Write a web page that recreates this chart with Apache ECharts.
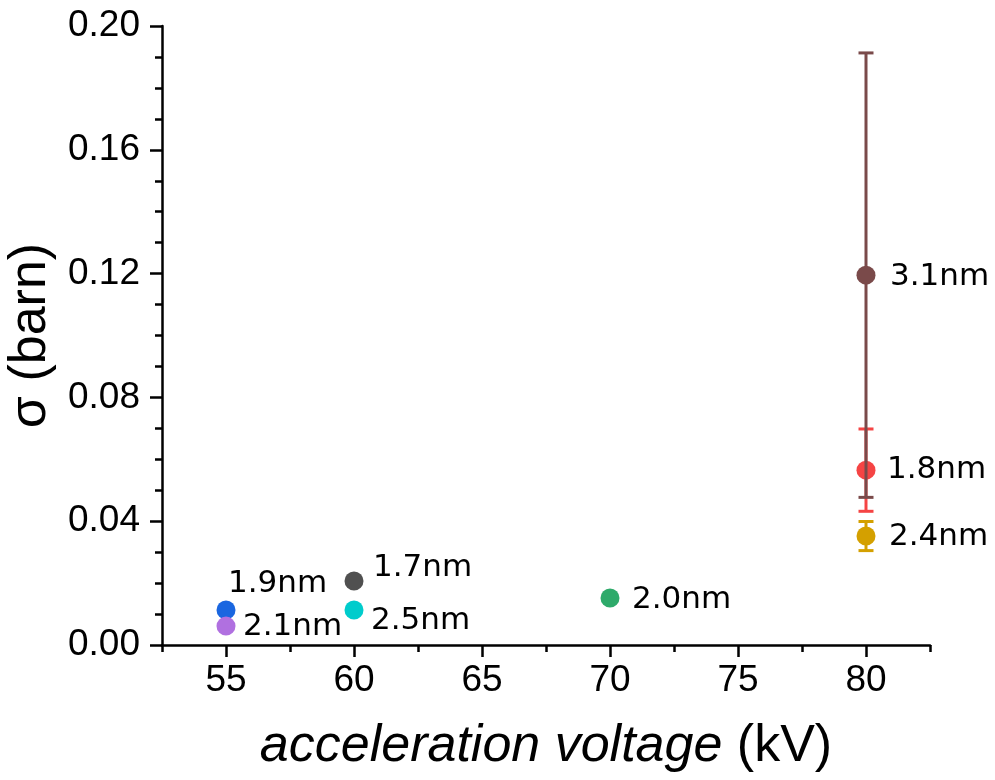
<!DOCTYPE html>
<html>
<head>
<meta charset="utf-8">
<script src="https://cdn.jsdelivr.net/npm/echarts@6/dist/echarts.min.js"></script>
<style>html,body{margin:0;padding:0;background:#fff}#c{width:995px;height:780px}</style>
</head>
<body>
<div id="c"></div>
<script>
// ---- data ----
const sizeLabels = ['1.9nm', '2.1nm', '1.7nm', '2.5nm', '2.0nm', '2.4nm', '1.8nm', '3.1nm'];
const voltage    = [55, 55, 60, 60, 70, 80, 80, 80];
const sigma      = [0.0113, 0.0061, 0.0207, 0.0113, 0.0152, 0.0352, 0.0565, 0.1195];
const sigmaErr   = [0.0008, 0.0008, 0.0012, 0.0008, 0.0008, 0.0047, 0.0133, 0.0718];
const xTicks = [55, 60, 65, 70, 75, 80];
const yTicks = [0.00, 0.04, 0.08, 0.12, 0.16, 0.20];

// ---- styles ----
const pointColors = ['#1a66e0', '#b070e0', '#505050', '#00cccc', '#2eaa6a', '#d4a000', '#f54444', '#7a4a4a'];
const labelOffsets = [[2, -26], [17, 1], [19, -13], [17, 11], [22, 2], [23, 1], [21, 0], [24, 2]];

const chart = echarts.init(document.getElementById('c'));
const dataRows = voltage.map((v, i) => [v, sigma[i], sigmaErr[i], i]);

const option = {
  animation: false,
  backgroundColor: '#fff',
  grid: { left: 162, right: 65, top: 26, bottom: 135, containLabel: false, outerBoundsMode: 'none' },
  xAxis: [{
    type: 'value', min: 52.5, max: 82.5,
    name: '{it|acceleration voltage} (kV)',
    nameLocation: 'middle', nameGap: 76,
    nameTextStyle: { fontFamily: 'Liberation Sans', fontSize: 52, color: '#000',
      rich: { it: { fontStyle: 'italic', fontFamily: 'Liberation Sans', fontSize: 52, color: '#000' } } },
    axisLine: { show: true, onZero: false, lineStyle: { color: '#000', width: 2.5 } },
    axisTick: { show: true, customValues: xTicks, length: 12, lineStyle: { color: '#000', width: 2.5 } },
    axisLabel: { show: true, customValues: xTicks, margin: 17, fontFamily: 'Liberation Sans', fontSize: 37, color: '#000' },
    splitLine: { show: false }
  }, {
    type: 'value', min: 52.5, max: 82.5, interval: 2.5, position: 'bottom',
    axisLine: { show: false },
    axisTick: { show: true, length: 7, lineStyle: { color: '#000', width: 2.5 } },
    axisLabel: { show: false },
    splitLine: { show: false }
  }],
  yAxis: {
    type: 'value', min: 0, max: 0.2, interval: 0.04,
    name: 'σ (barn)', nameLocation: 'middle', nameGap: 102,
    nameTextStyle: { fontFamily: 'Liberation Sans', fontSize: 52, color: '#000' },
    axisLine: { show: true, onZero: false, lineStyle: { color: '#000', width: 2.5 } },
    axisTick: { show: true, length: 12, lineStyle: { color: '#000', width: 2.5 } },
    minorTick: { show: true, splitNumber: 4, length: 7, lineStyle: { color: '#000', width: 2.5 } },
    axisLabel: { margin: 22, fontFamily: 'Liberation Sans', fontSize: 37, color: '#000',
      formatter: v => v.toFixed(2) },
    splitLine: { show: false }, minorSplitLine: { show: false }
  },
  series: [{
    type: 'custom',
    xAxisIndex: 0, yAxisIndex: 0,
    clip: false,
    data: dataRows,
    encode: { x: 0, y: 1 },
    renderItem: function (params, api) {
      const x = api.value(0), y = api.value(1), e = api.value(2), i = api.value(3);
      const p = api.coord([x, y]);
      const top = api.coord([x, y + e]);
      const bot = api.coord([x, y - e]);
      const col = pointColors[i];
      const cap = 7.5;
      const z2 = i * 10;
      const off = labelOffsets[i];
      return {
        type: 'group',
        children: [
          { type: 'line', z2: z2, shape: { x1: p[0], y1: top[1], x2: p[0], y2: bot[1] }, style: { stroke: col, lineWidth: 3 } },
          { type: 'line', z2: z2, shape: { x1: p[0] - cap, y1: top[1], x2: p[0] + cap, y2: top[1] }, style: { stroke: col, lineWidth: 3 } },
          { type: 'line', z2: z2, shape: { x1: p[0] - cap, y1: bot[1], x2: p[0] + cap, y2: bot[1] }, style: { stroke: col, lineWidth: 3 } },
          { type: 'circle', z2: z2 + 1, shape: { cx: p[0], cy: p[1], r: 9.5 }, style: { fill: col } },
          { type: 'text', z2: z2 + 2, style: { text: sizeLabels[i], x: p[0] + off[0], y: p[1] + off[1],
              verticalAlign: 'middle', align: 'left', fill: '#000', fontFamily: 'DejaVu Sans', fontSize: 31 } }
        ]
      };
    }
  }]
};
chart.setOption(option);
</script>
</body>
</html>
